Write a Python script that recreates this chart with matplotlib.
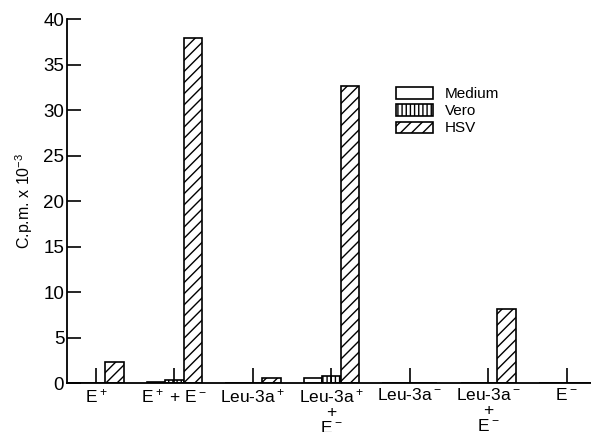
import matplotlib
matplotlib.use('Agg')
import matplotlib.pyplot as plt
import numpy as np

plt.rcParams['font.family'] = ['Liberation Sans', 'DejaVu Sans']
plt.rcParams['mathtext.default'] = 'regular'
plt.rcParams['hatch.linewidth'] = 1.0

# Data (c.p.m. x 10^-3)
groups = ['E$^+$', 'E$^+$ + E$^-$', 'Leu-3a$^+$', 'Leu-3a$^+$\n+\nE$^-$',
          'Leu-3a$^-$', 'Leu-3a$^-$\n+\nE$^-$', 'E$^-$']
medium = [0, 0.15, 0, 0.5, 0, 0, 0]
vero = [0, 0.3, 0, 0.8, 0, 0, 0]
hsv = [2.3, 37.9, 0.6, 32.6, 0, 8.1, 0]

x = np.arange(len(groups))
w = 0.235

fig = plt.figure(figsize=(5.91, 4.32), dpi=100)
ax = fig.add_axes([0.1134, 0.1134, 0.8866, 0.8426])

ax.bar(x - w, medium, w, color='white', edgecolor='black', linewidth=1.2, label='Medium')
ax.bar(x, vero, w, color='white', edgecolor='black', linewidth=1.2, hatch='||||', label='Vero')
ax.bar(x + w, hsv, w, color='white', edgecolor='black', linewidth=1.2, hatch='///', label='HSV')

ax.set_xlim(-0.37, 6.31)
ax.set_ylim(0, 40)
ax.set_yticks(range(0, 41, 5))
ax.set_xticks(x)
ax.set_xticklabels(groups, fontsize=12.5, linespacing=1.0)
ax.tick_params(axis='y', direction='in', length=10, width=1.2, labelsize=13.5, pad=2)
ax.tick_params(axis='x', direction='in', length=11, width=1.2, pad=3)

for s in ['top', 'right']:
    ax.spines[s].set_visible(False)
for s in ['left', 'bottom']:
    ax.spines[s].set_linewidth(1.3)

ax.set_ylabel('C.p.m. x 10$^{-3}$', fontsize=11.5, labelpad=6)

ax.legend(loc='upper left', bbox_to_anchor=(0.602, 0.85), frameon=False,
          fontsize=11, handlelength=2.4, handleheight=0.75,
          labelspacing=0.2, handletextpad=0.8)

fig.savefig('out.png', dpi=100)
